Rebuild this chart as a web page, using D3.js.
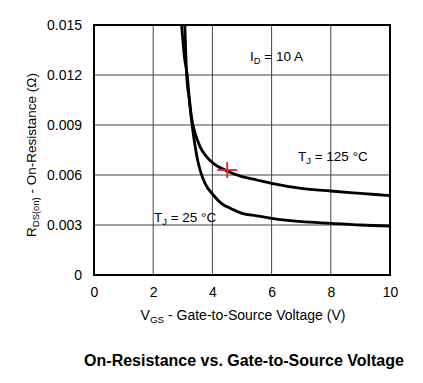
<!DOCTYPE html>
<html><head><meta charset="utf-8">
<script src="https://cdn.jsdelivr.net/npm/d3@7"></script>
<style>body{margin:0;background:#fff}svg{display:block}text{font-family:"Liberation Sans",Arial,sans-serif;fill:#000}</style>
</head><body>
<script>
const xTicks = [0, 2, 4, 6, 8, 10];
const yTicks = [0, 0.003, 0.006, 0.009, 0.012, 0.015];
const yTickLabels = ["0", "0.003", "0.006", "0.009", "0.012", "0.015"];
const vgs25 = [3.07, 3.13, 3.22, 3.30, 3.40, 3.50, 3.60, 3.75, 4.03, 4.3, 4.6, 5.0, 5.5, 6.0, 7.0, 8.0, 9.0, 10];
const r25 = [0.015, 0.012, 0.0105, 0.0092, 0.0079, 0.0069, 0.0062, 0.0055, 0.0048, 0.0043, 0.0040, 0.0037, 0.00355, 0.0034, 0.0032, 0.0031, 0.0030, 0.00294];
const vgs125 = [2.96, 3.06, 3.15, 3.22, 3.30, 3.40, 3.58, 3.8, 4.03, 4.48, 5.0, 5.5, 6.0, 7.0, 8.0, 9.0, 10];
const r125 = [0.015, 0.013, 0.012, 0.0106, 0.0094, 0.0086, 0.0077, 0.0071, 0.0067, 0.00626, 0.0059, 0.0057, 0.0055, 0.0052, 0.00504, 0.0049, 0.00476];
const marker = {vgs: 4.5, r: 0.0063};

const W = 423, H = 383;
const svg = d3.select("body").append("svg").attr("width", W).attr("height", H);
const x = d3.scaleLinear().domain([0, 10]).range([94, 390]);
const y = d3.scaleLinear().domain([0, 0.015]).range([275, 25]);

// grid
svg.append("g").selectAll("line").data(xTicks.slice(1, -1)).join("line")
  .attr("x1", d => x(d)).attr("x2", d => x(d)).attr("y1", 25).attr("y2", 275)
  .attr("stroke", "#444").attr("stroke-width", 1);
svg.append("g").selectAll("line").data(yTicks.slice(1, -1)).join("line")
  .attr("y1", d => y(d)).attr("y2", d => y(d)).attr("x1", 94).attr("x2", 390)
  .attr("stroke", "#444").attr("stroke-width", 1);

// axes with d3 axis for labels
const xAxis = svg.append("g").attr("transform", "translate(0,275)")
  .call(d3.axisBottom(x).tickValues(xTicks).tickSize(0).tickPadding(12).tickFormat(d3.format("d")));
xAxis.select(".domain").remove();
xAxis.selectAll("text").style("font-size", "14px").style("font-family", "Liberation Sans, Arial, sans-serif");
const yAxis = svg.append("g").attr("transform", "translate(94,0)")
  .call(d3.axisLeft(y).tickValues(yTicks).tickSize(0).tickPadding(12).tickFormat((d, i) => yTickLabels[i]));
yAxis.select(".domain").remove();
yAxis.selectAll("text").style("font-size", "14px").style("font-family", "Liberation Sans, Arial, sans-serif");

svg.append("clipPath").attr("id", "c").append("rect")
  .attr("x", 94).attr("y", 25).attr("width", 296).attr("height", 250);

const line = d3.line().curve(d3.curveMonotoneX);
const d25 = vgs25.map((v, i) => [x(v), y(r25[i])]);
const d125 = vgs125.map((v, i) => [x(v), y(r125[i])]);
svg.append("path").attr("d", line(d25)).attr("fill", "none").attr("stroke", "#000").attr("stroke-width", 2.8).attr("clip-path", "url(#c)");
svg.append("path").attr("d", line(d125)).attr("fill", "none").attr("stroke", "#000").attr("stroke-width", 2.8).attr("clip-path", "url(#c)");

// frame
svg.append("rect").attr("x", 94).attr("y", 25).attr("width", 296).attr("height", 250)
  .attr("fill", "none").attr("stroke", "#000").attr("stroke-width", 2);

// marker
const mx = x(marker.vgs), my = y(marker.r);
svg.append("line").attr("x1", mx - 10).attr("x2", mx + 10).attr("y1", my).attr("y2", my).attr("stroke", "#e3202a").attr("stroke-width", 1.8);
svg.append("line").attr("x1", mx).attr("x2", mx).attr("y1", my - 8).attr("y2", my + 8).attr("stroke", "#e3202a").attr("stroke-width", 1.8);

// annotations
function sub(t, main, s, rest, size) {
  t.append("tspan").text(main);
  t.append("tspan").text(s).attr("dy", 3).style("font-size", (size * 0.7) + "px");
  t.append("tspan").text(rest).attr("dy", -3);
}
const fs = 13.5;
sub(svg.append("text").attr("x", 250).attr("y", 61).style("font-size", fs + "px"), "I", "D", " = 10 A", fs);
sub(svg.append("text").attr("x", 298).attr("y", 161).style("font-size", fs + "px"), "T", "J", " = 125 °C", fs);
sub(svg.append("text").attr("x", 154).attr("y", 222).style("font-size", fs + "px"), "T", "J", " = 25 °C", fs);

// axis titles
const xt = svg.append("text").attr("x", 243).attr("y", 320).attr("text-anchor", "middle").style("font-size", "14px");
sub(xt, "V", "GS", " - Gate-to-Source Voltage (V)", 14);
const yt = svg.append("text").attr("transform", "translate(36,155) rotate(-90)").attr("text-anchor", "middle").style("font-size", "13.5px");
sub(yt, "R", "DS(on)", " - On-Resistance (Ω)", 13.5);

svg.append("text").attr("x", 244).attr("y", 366).attr("text-anchor", "middle")
  .style("font-size", "16px").style("font-weight", "bold").text("On-Resistance vs. Gate-to-Source Voltage");
</script>
</body></html>
